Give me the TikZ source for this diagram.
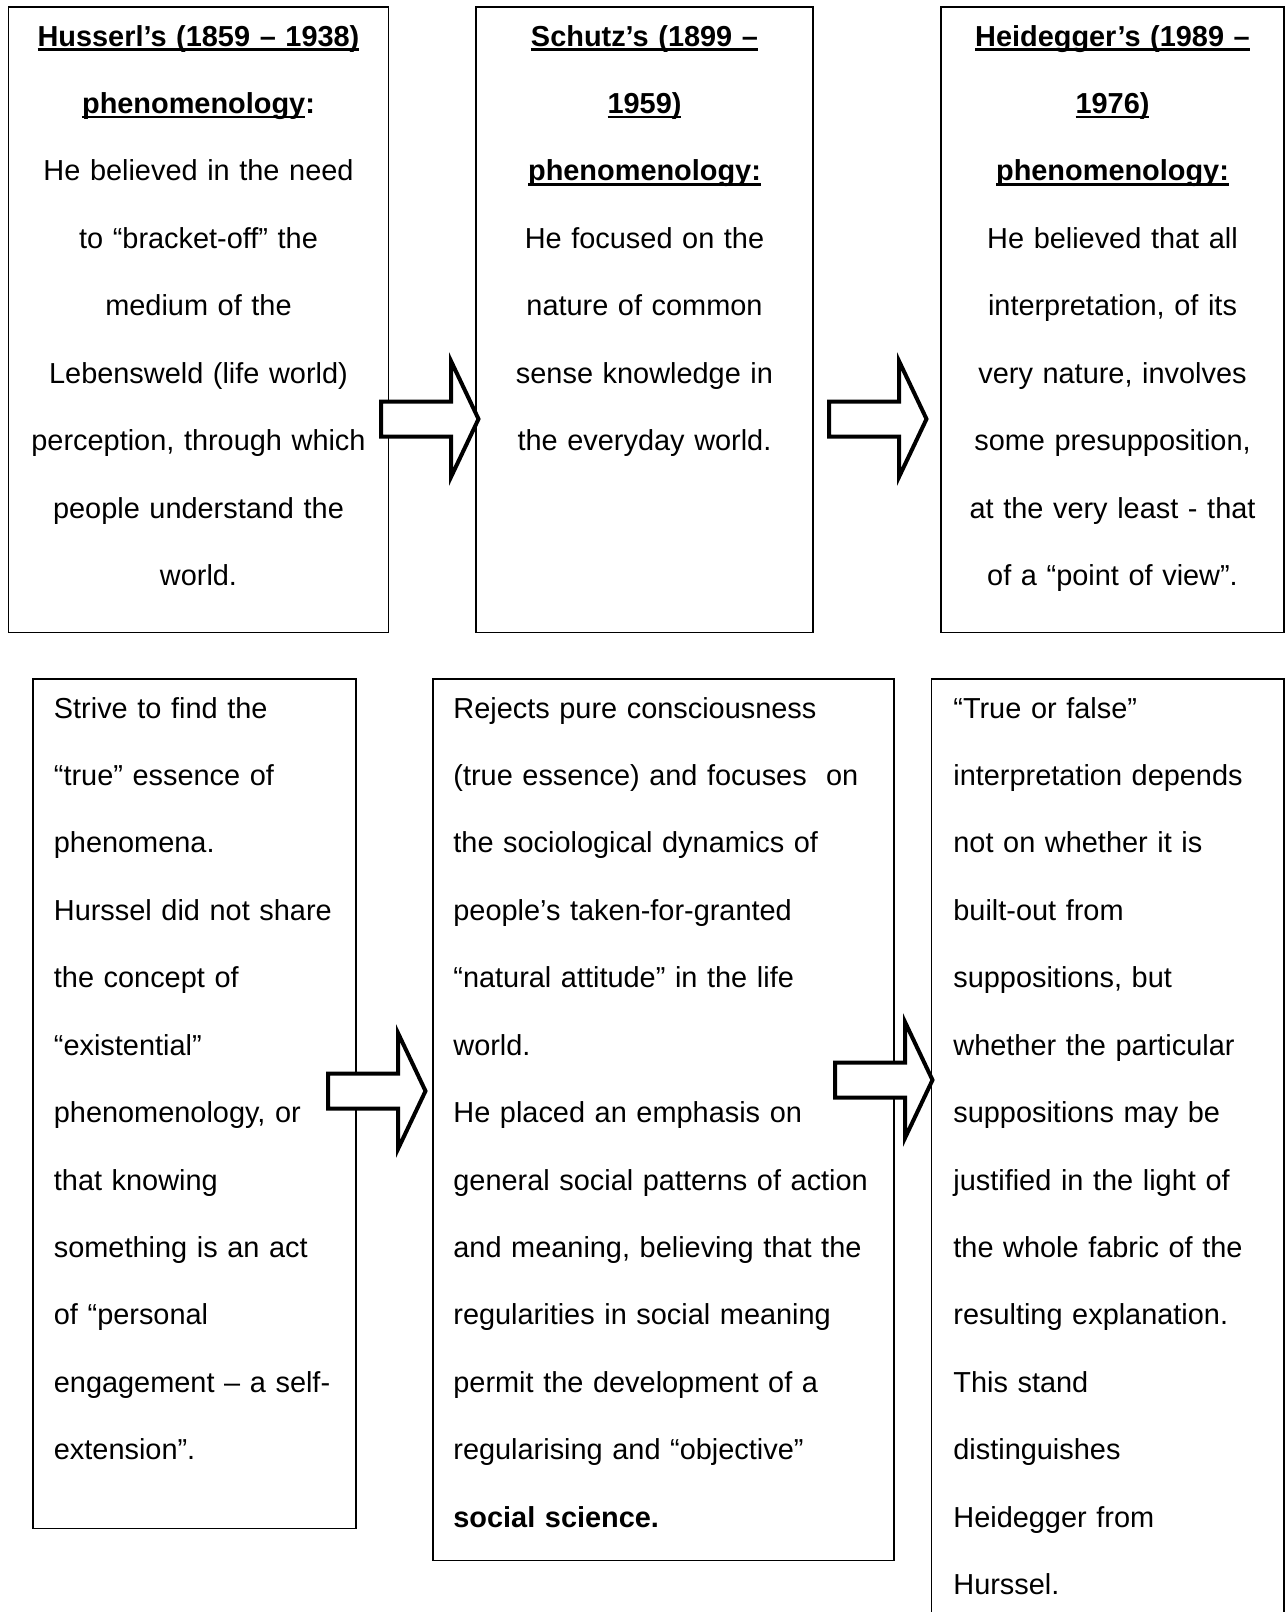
\documentclass[tikz,border=0pt]{standalone}
\usepackage{fontspec}
\setmainfont{Liberation Sans}
\usetikzlibrary{fit}

% underline at a fixed depth below the baseline (crosses descenders)
\newcommand\undl[1]{\setbox0=\hbox{#1}\rlap{\rule[-2.4pt]{\wd0}{1.3pt}}\box0}
% hollow block arrow pointing right, tail centred on the given coordinate
\newcommand\blockarr[1]{\draw[blockarrow] (#1) ++(0,-17.5) -- ++(70,0) -- ++(0,-40.5)
  -- ++(27.5,58) -- ++(-27.5,58) -- ++(0,-40.5) -- ++(-70,0) -- cycle;}

\begin{document}
\begin{tikzpicture}[x=0.5pt,y=-0.5pt,
  box/.style={draw=black,line width=0.9pt,inner sep=0pt},
  body/.style={inner sep=0pt,font=\fontsize{14.45pt}{33.72pt}\selectfont},
  ctext/.style={body,anchor=base,align=center},
  ltext/.style={body,anchor=base west,align=left},
  blockarrow/.style={draw=black,line width=2pt,fill=white,line join=miter}]

\path[use as bounding box] (0,0) rectangle (1285,1612);
\begin{scope}
\clip (0,0) rectangle (1285,1612);

% ---- top row: the three phenomenologies ----
\node[box, fit={(8.5,7) (388.5,632.5)}] (b1) {};
\node[box, fit={(476,7) (813,632.5)}] (b2) {};
\node[box, fit={(941,7) (1284,632.5)}] (b3) {};

\node[ctext, text width=190pt] (t1) at (198.5,46) {%
\textbf{\undl{Husserl’s (1859 – 1938)}}\\
\textbf{\undl{phenomenology}:}\\
He believed in the need\\
to “bracket-off” the\\
medium of the\\
Lebensweld (life world)\\
perception, through which\\
people understand the\\
world.};

\node[ctext, text width=168.5pt] (t2) at (644.5,46) {%
\textbf{\undl{Schutz’s (1899 –}}\\
\textbf{\undl{1959)}}\\
\textbf{\undl{phenomenology:}}\\
He focused on the\\
nature of common\\
sense knowledge in\\
the everyday world.};

\node[ctext, text width=171.5pt] (t3) at (1112.5,46) {%
\textbf{\undl{Heidegger’s (1989 –}}\\
\textbf{\undl{1976)}}\\
\textbf{\undl{phenomenology:}}\\
He believed that all\\
interpretation, of its\\
very nature, involves\\
some presupposition,\\
at the very least - that\\
of a “point of view”.};

% ---- bottom row: what each one holds ----
\node[box, fit={(33,679) (356,1528.5)}] (b4) {};
\node[box, fit={(433,679) (894,1560.5)}] (b5) {};
\node[box, fit={(931.5,679) (1284,1640)}] (b6) {};

\node[ltext, text width=170pt] (t4) at (53.5,718) {%
Strive to find the\\
“true” essence of\\
phenomena.\\
Hurssel did not share\\
the concept of\\
“existential”\\
phenomenology, or\\
that knowing\\
something is an act\\
of “personal\\
engagement – a self-\\
extension”.};

\node[ltext, text width=240pt] (t5) at (453,718) {%
Rejects pure consciousness\\
(true essence) and focuses\ \ on\\
the sociological dynamics of\\
people’s taken-for-granted\\
“natural attitude” in the life\\
world.\\
He placed an emphasis on\\
general social patterns of action\\
and meaning, believing that the\\
regularities in social meaning\\
permit the development of a\\
regularising and “objective”\\
\textbf{social science.}};

\node[ltext, text width=175pt] (t6) at (953,718) {%
“True or false”\\
interpretation depends\\
not on whether it is\\
built-out from\\
suppositions, but\\
whether the particular\\
suppositions may be\\
justified in the light of\\
the whole fabric of the\\
resulting explanation.\\
This stand\\
distinguishes\\
Heidegger from\\
Hurssel.};

% ---- block arrows between neighbouring boxes ----
\coordinate (a12) at (381,419);
\coordinate (a23) at (829,419);
\coordinate (a45) at (328,1091);
\coordinate (a56) at (835,1080);
\blockarr{a12}
\blockarr{a23}
\blockarr{a45}
\blockarr{a56}
\end{scope}
\end{tikzpicture}
\end{document}
